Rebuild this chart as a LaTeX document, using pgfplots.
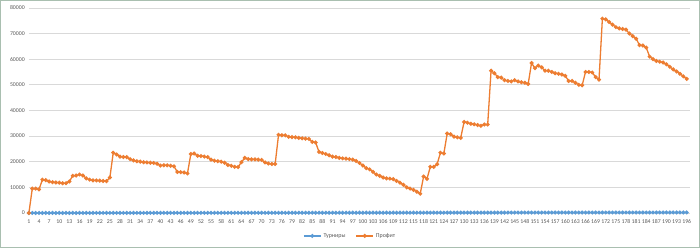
\documentclass[border=0pt]{standalone}
\usepackage{fontspec}
\setmainfont{Carlito}
\usepackage{pgfplots}
\usepackage{pgfplotstable}
\pgfplotsset{compat=1.18}
\definecolor{xlblue}{HTML}{5B9BD5}
\definecolor{xlorange}{HTML}{ED7D31}
\definecolor{xlgrid}{HTML}{D9D9D9}
\definecolor{xltext}{HTML}{595959}
\definecolor{xlframe}{HTML}{A9BFB0}
\pgfplotstableread{
n t p
1 1 0
2 2 9500
3 3 9500
4 4 9200
5 5 13000
6 6 12800
7 7 12300
8 8 12000
9 9 11900
10 10 11800
11 11 11600
12 12 11600
13 13 12300
14 14 14500
15 15 14600
16 16 15000
17 17 14600
18 18 13500
19 19 13000
20 20 12700
21 21 12700
22 22 12600
23 23 12500
24 24 12400
25 25 13800
26 26 23500
27 27 22800
28 28 22000
29 29 21800
30 30 21800
31 31 21000
32 32 20500
33 33 20200
34 34 20000
35 35 19800
36 36 19700
37 37 19600
38 38 19500
39 39 19200
40 40 18500
41 41 18600
42 42 18600
43 43 18400
44 44 18200
45 45 16000
46 46 15900
47 47 15800
48 48 15400
49 49 23000
50 50 23200
51 51 22300
52 52 22200
53 53 22000
54 54 21800
55 55 20800
56 56 20400
57 57 20200
58 58 20000
59 59 19600
60 60 18700
61 61 18400
62 62 18000
63 63 17900
64 64 19800
65 65 21500
66 66 21000
67 67 20900
68 68 20900
69 69 20800
70 70 20700
71 71 19700
72 72 19300
73 73 19100
74 74 19100
75 75 30500
76 76 30300
77 77 30300
78 78 29700
79 79 29600
80 80 29500
81 81 29300
82 82 29100
83 83 29000
84 84 28900
85 85 27700
86 86 27500
87 87 23800
88 88 23400
89 89 23000
90 90 22500
91 91 22000
92 92 21800
93 93 21500
94 94 21300
95 95 21200
96 96 21000
97 97 20800
98 98 20300
99 99 19500
100 100 18500
101 101 17500
102 102 17000
103 103 16000
104 104 15000
105 105 14500
106 106 13800
107 107 13500
108 108 13400
109 109 13200
110 110 12500
111 111 11800
112 112 11000
113 113 10000
114 114 9500
115 115 9000
116 116 8300
117 117 7500
118 118 14200
119 119 13300
120 120 18000
121 121 18000
122 122 19000
123 123 23500
124 124 23200
125 125 31000
126 126 30700
127 127 29800
128 128 29500
129 129 29300
130 130 35500
131 131 35200
132 132 34800
133 133 34600
134 134 34300
135 135 34000
136 136 34500
137 137 34500
138 138 55500
139 139 54500
140 140 53000
141 141 52800
142 142 51800
143 143 51500
144 144 51300
145 145 51800
146 146 51300
147 147 51000
148 148 50800
149 149 50300
150 150 58500
151 151 56500
152 152 57500
153 153 56800
154 154 55500
155 155 55500
156 156 55000
157 157 54500
158 158 54300
159 159 54000
160 160 53500
161 161 51500
162 162 51500
163 163 50800
164 164 50000
165 165 49800
166 166 55000
167 167 55000
168 168 54800
169 169 53000
170 170 52000
171 171 75800
172 172 75500
173 173 74500
174 174 73500
175 175 72500
176 176 72000
177 177 71800
178 178 71500
179 179 70000
180 180 69000
181 181 68000
182 182 65500
183 183 65300
184 184 64500
185 185 61000
186 186 60000
187 187 59300
188 188 59000
189 189 58700
190 190 58000
191 191 57000
192 192 56000
193 193 55200
194 194 54300
195 195 53300
196 196 52300
}\datatable
\begin{document}
\begin{tikzpicture}
\draw[xlframe, line width=0.8pt, fill=white] (0.5pt,0.5pt) rectangle (699.5pt,247.5pt);
\begin{axis}[
  at={(29pt,35pt)}, anchor=south west,
  scale only axis, width=661pt, height=205pt,
  xmin=1, xmax=197, ymin=0, ymax=80000,
  xtick={1,4,...,196},
  ytick={0,10000,...,80000},
  scaled ticks=false,
  /pgf/number format/.cd, set thousands separator={}, assume math mode=true,
  /pgfplots/.cd,
  axis line style={draw=none},
  major tick length=0pt,
  ymajorgrids, grid style={xlgrid, line width=0.6pt},
  tick label style={font=\fontsize{5.8}{6}\selectfont, text=xltext},
  xticklabel style={inner sep=0pt, text height=4pt, text depth=0pt, anchor=north, yshift=-6pt},
  yticklabel style={inner sep=1pt, xshift=-3pt},
  legend style={at={(0.486,-0.112)}, anchor=center, draw=none, fill=none,
    font=\fontsize{6}{7}\selectfont\color{xltext}, legend columns=2,
    /tikz/every even column/.append style={column sep=8pt}},
  clip=false,
]
\addplot[xlblue, line width=1.3pt, mark=*, mark size=1.3pt] table[x=n, y=t] {\datatable};
\addlegendentry{Турниры}
\addplot[xlorange, line width=1.3pt, mark=*, mark size=1.3pt] table[x=n, y=p] {\datatable};
\addlegendentry{Профит}
\end{axis}
\end{tikzpicture}
\end{document}
